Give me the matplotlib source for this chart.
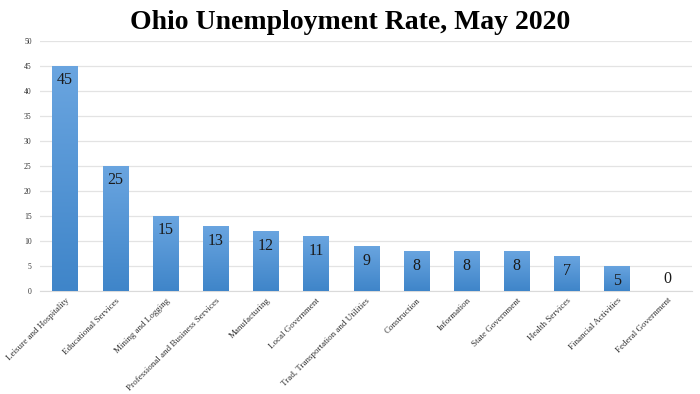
import numpy as np
import matplotlib.pyplot as plt
from matplotlib.colors import LinearSegmentedColormap

# data
sectors = ["Leisure and Hospitality", "Educational Services", "Mining and Logging",
           "Professional and Business Services", "Manufacturing", "Local Government",
           "Trad, Transportation and Utilities", "Construction", "Information",
           "State Government", "Health Services", "Financial Activities",
           "Federal Government"]
rates = [45, 25, 15, 13, 12, 11, 9, 8, 8, 8, 7, 5, 0]
y_ticks = [0, 5, 10, 15, 20, 25, 30, 35, 40, 45, 50]

serif = "Liberation Serif"

fig = plt.figure(figsize=(7, 3.94), dpi=100)
ax = fig.add_axes([0.057, 0.2614, 0.932, 0.6346])

x = np.arange(len(sectors))
bars = ax.bar(x, rates, width=0.5, color="#4a8fd4", zorder=2)

# vertical gradient inside each bar, lighter on top
cmap = LinearSegmentedColormap.from_list("blues", ["#3f85c9", "#6aa5e0"])
grad = np.linspace(0, 1, 256).reshape(-1, 1)
for b in bars:
    h = b.get_height()
    if h <= 0:
        continue
    x0 = b.get_x()
    w = b.get_width()
    im = ax.imshow(grad, extent=[x0, x0 + w, 0, h], origin="lower",
                   cmap=cmap, aspect="auto", zorder=3)
    im.set_clip_path(b)
    b.set_alpha(0)

for i, v in enumerate(rates):
    if v > 0:
        ax.text(i, v - 1.3, str(v), ha="center", va="top", fontsize=11.5,
                family=serif, color="#1a1a1a", zorder=4)
    else:
        ax.text(i, v + 0.8, str(v), ha="center", va="bottom", fontsize=11.5,
                family=serif, color="#1a1a1a", zorder=4)

ax.set_xlim(-0.5, 12.5)
ax.set_ylim(0, 50)
ax.set_yticks(y_ticks)
ax.set_yticklabels([str(t) for t in y_ticks], fontsize=5.5, family=serif, color="#333333")
ax.set_xticks(x)
ax.set_xticklabels(sectors, rotation=45, ha="right", rotation_mode="anchor",
                   fontsize=6.5, family=serif, color="#333333")
ax.tick_params(axis="both", length=0, pad=6)
ax.tick_params(axis="x", pad=4)

ax.grid(axis="y", color="#e3e3e3", linewidth=0.9, zorder=0)
for s in ["top", "right", "left"]:
    ax.spines[s].set_visible(False)
ax.spines["bottom"].set_color("#dadada")

fig.suptitle("Ohio Unemployment Rate, May 2020", fontsize=20, fontweight="bold",
             family=serif, y=0.975, va="top")

fig.savefig("out.png", dpi=100)
